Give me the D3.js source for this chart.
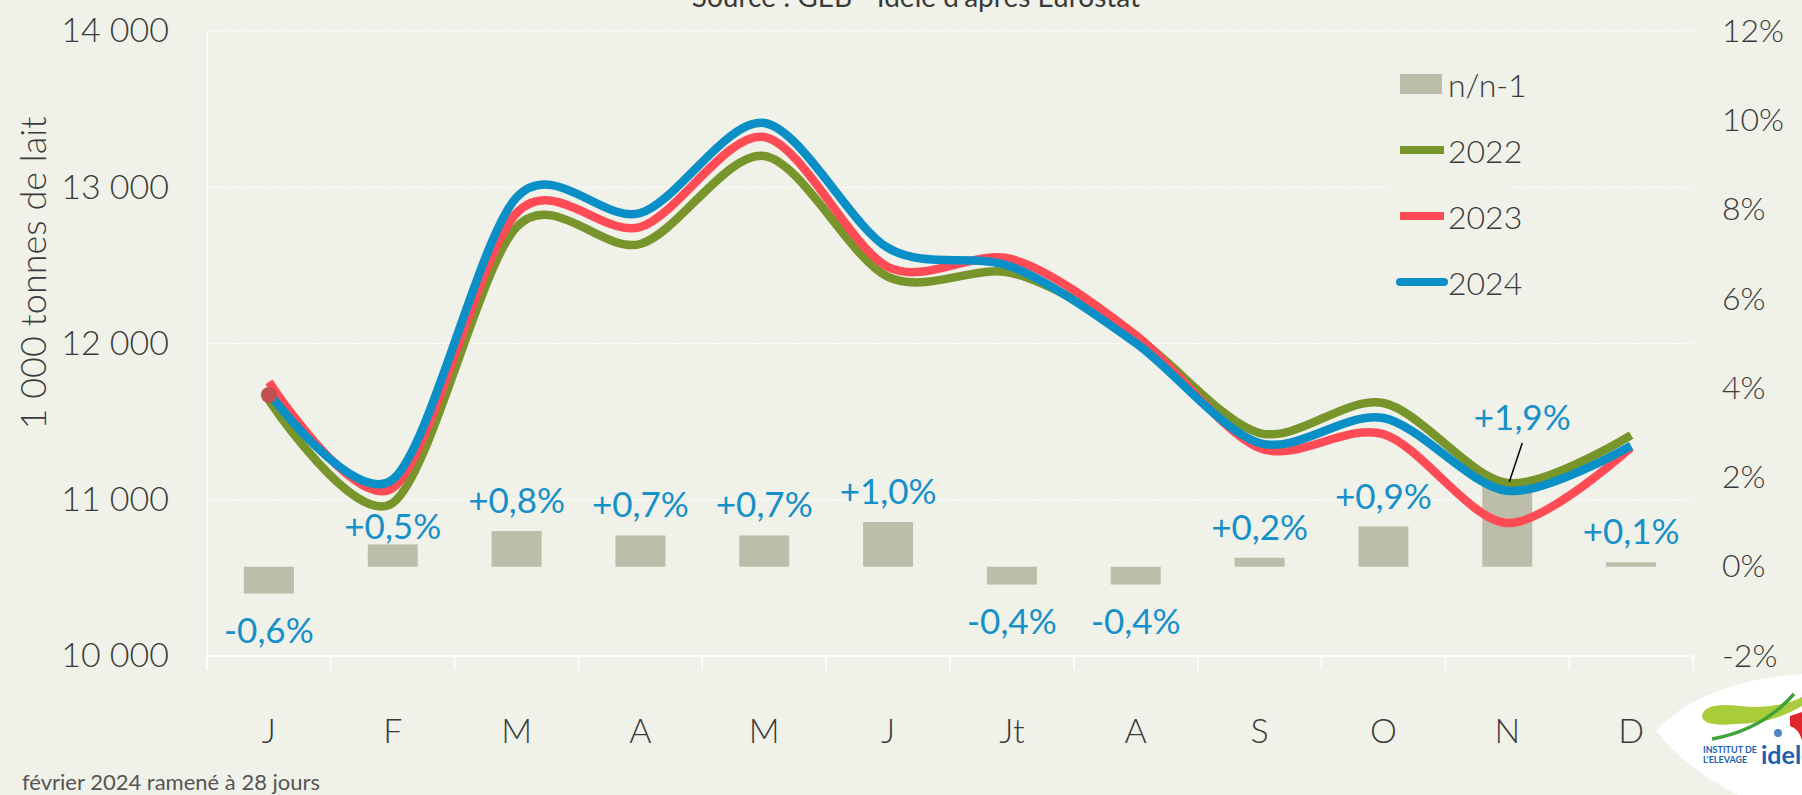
<!DOCTYPE html>
<html>
<head>
<meta charset="utf-8">
<script src="https://cdn.jsdelivr.net/npm/d3@7"></script>
<style>
  body { margin: 0; background: #f0f1e8; }
  svg { display: block; }
  text { font-family: Lato, "Open Sans", sans-serif; }
</style>
</head>
<body>
<div class="main"></div>
<script>
// months
const months = ["J", "F", "M", "A", "M", "J", "Jt", "A", "S", "O", "N", "D"];

// 1 000 tonnes de lait
const lait2022 = [11638, 10979, 12745, 12637, 13200, 12426, 12451, 12042, 11427, 11619, 11107, 11414];
const lait2023 = [11754, 11075, 12835, 12746, 13322, 12490, 12540, 12054, 11331, 11420, 10851, 11335];
const lait2024 = [11683, 11130, 12935, 12835, 13411, 12611, 12490, 12003, 11363, 11523, 11057, 11346];

// n/n-1 in %
const evol = [-0.6, 0.5, 0.8, 0.7, 0.7, 1.0, -0.4, -0.4, 0.2, 0.9, 1.9, 0.1];

const leftTicks = [10000, 11000, 12000, 13000, 14000];
const rightTicks = [-2, 0, 2, 4, 6, 8, 10, 12];

const series = [
    { name: "2022", values: lait2022, color: "#77952b" },
    { name: "2023", values: lait2023, color: "#ff4b55" },
    { name: "2024", values: lait2024, color: "#0b8fc7" }
];

let width = 1802;
let height = 795;
let plotLeft = 207, plotRight = 1693, plotTop = 31, plotBottom = 656;
const textColor = "#3a3a3a";
const labelColor = "#1590c8";
const barColor = "#bdbea9";

const fr = d3.formatLocale({ decimal: ",", thousands: "\u00a0", grouping: [3], currency: ["", " €"], minus: "-" });
const fmtK = fr.format(",d");
const fmtPct = d => (d > 0 ? "+" : "") + fr.format(".1f")(d) + "%";

let svg = d3.select(".main").append("svg")
    .attr("width", width)
    .attr("height", height);

svg.append("rect")
    .attr("width", width)
    .attr("height", height)
    .attr("fill", "#f0f1e8");

const x = d3.scaleBand().domain(d3.range(12)).range([plotLeft, plotRight]);
const yL = d3.scaleLinear().domain([10000, 14000]).range([plotBottom, plotTop]);
const yR = d3.scaleLinear().domain([-2, 12]).range([plotBottom, plotTop]);

// title (cut at top in the original)
svg.append("text")
    .attr("x", 916)
    .attr("y", 7)
    .attr("text-anchor", "middle")
    .attr("font-size", 28)
    .attr("fill", textColor)
    .text("Source : GEB - Idele d'après Eurostat");

// gridlines
svg.append("g").selectAll("line")
    .data(leftTicks.filter(d => d > 10000))
    .enter().append("line")
    .attr("x1", plotLeft).attr("x2", plotRight)
    .attr("y1", d => yL(d)).attr("y2", d => yL(d))
    .attr("stroke", "#ffffff")
    .attr("stroke-width", 1.2)
    .attr("stroke-dasharray", "3,2");

// left axis line + bottom axis line
svg.append("line")
    .attr("x1", plotLeft).attr("x2", plotLeft)
    .attr("y1", plotTop).attr("y2", plotBottom + 14)
    .attr("stroke", "#ffffff").attr("stroke-width", 1.5);
svg.append("line")
    .attr("x1", plotLeft).attr("x2", plotRight)
    .attr("y1", plotBottom).attr("y2", plotBottom)
    .attr("stroke", "#ffffff").attr("stroke-width", 1.5);
// tick marks between months
svg.append("g").selectAll("line")
    .data(d3.range(13))
    .enter().append("line")
    .attr("x1", i => plotLeft + i * x.step()).attr("x2", i => plotLeft + i * x.step())
    .attr("y1", plotBottom).attr("y2", plotBottom + 14)
    .attr("stroke", "#ffffff").attr("stroke-width", 1.5);

// left axis labels
const gL = svg.append("g")
    .attr("transform", `translate(${plotLeft - 35},0)`)
    .call(d3.axisLeft(yL).tickValues(leftTicks).tickSize(0).tickFormat(fmtK));
gL.select(".domain").remove();
gL.selectAll("text")
    .attr("font-size", 34).attr("font-weight", 300)
    .attr("font-family", "Lato, sans-serif")
    .attr("fill", textColor);

// right axis labels
const gR = svg.append("g")
    .attr("transform", `translate(${plotRight + 26},0)`)
    .call(d3.axisRight(yR).tickValues(rightTicks).tickSize(0).tickFormat(d => d + "%"));
gR.select(".domain").remove();
gR.selectAll("text")
    .attr("font-size", 32).attr("font-weight", 300)
    .attr("font-family", "Lato, sans-serif")
    .attr("fill", textColor);

// x axis labels
const gX = svg.append("g")
    .attr("transform", `translate(0,${plotBottom + 60})`)
    .call(d3.axisBottom(x).tickSize(0).tickFormat(i => months[i]));
gX.select(".domain").remove();
gX.selectAll("text")
    .attr("font-size", 34).attr("font-weight", 300)
    .attr("font-family", "Lato, sans-serif")
    .attr("fill", textColor);

// y title
svg.append("text")
    .attr("transform", `translate(32,273) rotate(-90)`)
    .attr("text-anchor", "middle")
    .attr("dominant-baseline", "central")
    .attr("font-size", 36).attr("font-weight", 300)
    .attr("fill", textColor)
    .text("1 000 tonnes de lait");

// bars n/n-1
const barW = 50;
svg.append("g").selectAll("rect")
    .data(evol)
    .enter().append("rect")
    .attr("x", (d, i) => x(i) + x.bandwidth() / 2 - barW / 2)
    .attr("y", d => yR(Math.max(0, d)))
    .attr("width", barW)
    .attr("height", d => Math.abs(yR(d) - yR(0)))
    .attr("fill", barColor);

// lines
const line = d3.line()
    .x((d, i) => x(i) + x.bandwidth() / 2)
    .y(d => yL(d))
    .curve(d3.curveCardinal.tension(0.1));

svg.append("g").selectAll("path")
    .data(series)
    .enter().append("path")
    .attr("d", d => line(d.values))
    .attr("fill", "none")
    .attr("stroke", d => d.color)
    .attr("stroke-width", 8.5)
    .attr("stroke-linejoin", "round");

// leftover marker on january
svg.append("circle")
    .attr("cx", x(0) + x.bandwidth() / 2)
    .attr("cy", yL(lait2024[0]) + 2)
    .attr("r", 8)
    .attr("fill", "#c0504d");

// data labels
const labelY = (d, i) => {
    if (i === 1) return yR(d) - 19;      // F sits closer to its bar
    if (i === 10) return yR(d) - 66;     // N lifted with a leader line
    return d > 0 ? yR(d) - 32 : yR(d) + 35;
};
const labelX = (d, i) => x(i) + x.bandwidth() / 2 + (i === 10 ? 15 : 0);

svg.append("g").selectAll("text")
    .data(evol)
    .enter().append("text")
    .attr("x", labelX)
    .attr("y", labelY)
    .attr("text-anchor", "middle")
    .attr("dominant-baseline", "central")
    .attr("font-size", 35).attr("font-weight", 400)
    .attr("fill", labelColor)
    .text(d => fmtPct(d));

// leader line for N
svg.append("line")
    .attr("x1", labelX(evol[10], 10)).attr("y1", labelY(evol[10], 10) + 27)
    .attr("x2", x(10) + x.bandwidth() / 2 + 2).attr("y2", yR(evol[10]))
    .attr("stroke", "#000").attr("stroke-width", 1.5);

// legend
const legend = svg.append("g").attr("transform", "translate(1397,0)");
legend.append("rect")
    .attr("x", -8).attr("y", 60).attr("width", 120).attr("height", 245)
    .attr("fill", "#f0f1e8");
const legendItems = [{ name: "n/n-1", bar: true }].concat(series);
const legendRow = legend.selectAll("g")
    .data(legendItems)
    .enter().append("g")
    .attr("transform", (d, i) => `translate(0,${84 + i * 66})`);
legendRow.filter(d => d.bar).append("rect")
    .attr("x", 3).attr("y", -10).attr("width", 42).attr("height", 20)
    .attr("fill", barColor);
legendRow.filter(d => !d.bar).append("line")
    .attr("x1", 3).attr("x2", 47)
    .attr("stroke", d => d.color)
    .attr("stroke-width", 8)
    .attr("stroke-linecap", d => d.name === "2024" ? "round" : "butt");
legendRow.append("text")
    .attr("x", 51)
    .attr("dominant-baseline", "central")
    .attr("font-size", 32).attr("font-weight", 300)
    .attr("fill", textColor)
    .text(d => d.name);

// footnote
svg.append("text")
    .attr("x", 22).attr("y", 790)
    .attr("font-size", 22)
    .attr("fill", "#555555")
    .text("février 2024 ramené à 28 jours");

// logo idele (simplified)
const logo = svg.append("g");
logo.append("path")
    .attr("d", "M1656,731 Q1700,682 1802,674 L1802,795 L1738,795 Q1688,770 1656,731 Z")
    .attr("fill", "#ffffff");
logo.append("path")
    .attr("d", "M1702,716 Q1704,702 1740,706 Q1776,710 1802,697 L1802,706 Q1772,724 1735,724 Q1703,727 1702,716 Z")
    .attr("fill", "#a9cc3b");
logo.append("path")
    .attr("d", "M1712,739 Q1762,730 1794,694")
    .attr("fill", "none").attr("stroke", "#3fa33a").attr("stroke-width", 3.5);
logo.append("path")
    .attr("d", "M1790,716 L1802,712 L1802,740 Q1798,728 1790,726 Z")
    .attr("fill", "#e3262d");
logo.append("circle")
    .attr("cx", 1778).attr("cy", 733).attr("r", 4)
    .attr("fill", "#4a86c8");
logo.append("text")
    .attr("x", 1703).attr("y", 753)
    .attr("font-size", 9).attr("font-weight", 700)
    .attr("font-family", "'DejaVu Sans Condensed', sans-serif")
    .attr("fill", "#1b5fae")
    .text("INSTITUT DE");
logo.append("text")
    .attr("x", 1703).attr("y", 763)
    .attr("font-size", 9).attr("font-weight", 700)
    .attr("font-family", "'DejaVu Sans Condensed', sans-serif")
    .attr("fill", "#1b5fae")
    .text("L'ELEVAGE");
logo.append("text")
    .attr("x", 1761).attr("y", 764)
    .attr("font-size", 25).attr("font-weight", 700)
    .attr("font-family", "'DejaVu Sans', sans-serif")
    .attr("fill", "#1b5fae")
    .text("idele");
</script>
</body>
</html>
